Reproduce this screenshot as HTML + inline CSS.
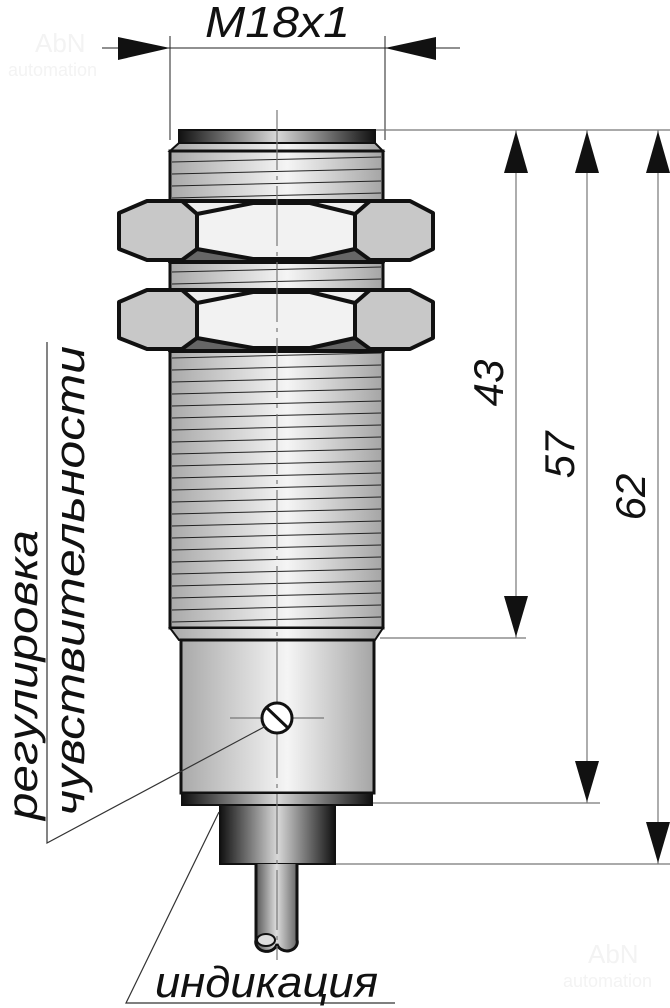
<!DOCTYPE html>
<html><head><meta charset="utf-8"><style>
html,body{margin:0;padding:0;background:#fff;width:670px;height:1008px;overflow:hidden}
svg{display:block}
text{font-family:"Liberation Sans",sans-serif;font-style:italic;fill:#111}
</style></head><body>
<svg width="670" height="1008" viewBox="0 0 670 1008" xmlns="http://www.w3.org/2000/svg">
<defs>
<linearGradient id="g" x1="0" x2="1" y1="0" y2="0">
<stop offset="0" stop-color="#a9a9a9"/><stop offset="0.55" stop-color="#f5f5f5"/><stop offset="1" stop-color="#a5a5a5"/></linearGradient>
<linearGradient id="d" x1="0" x2="1" y1="0" y2="0">
<stop offset="0" stop-color="#111"/><stop offset="0.5" stop-color="#d8d8d8"/><stop offset="1" stop-color="#111"/></linearGradient>
<linearGradient id="c" x1="0" x2="1" y1="0" y2="0">
<stop offset="0" stop-color="#555"/><stop offset="0.5" stop-color="#ddd"/><stop offset="1" stop-color="#666"/></linearGradient>
</defs>
<text x="35" y="52" font-size="26" style="font-style:normal;fill:#f3f3f3">AbN</text>
<text x="8" y="76" font-size="18" style="font-style:normal;fill:#f3f3f3">automation</text>
<text x="588" y="963" font-size="26" style="font-style:normal;fill:#f3f3f3">AbN</text>
<text x="563" y="987" font-size="18" style="font-style:normal;fill:#f3f3f3">automation</text>

<g stroke="#222" stroke-width="1">
<line x1="170" y1="36" x2="170" y2="140"/><line x1="385" y1="36" x2="385" y2="140"/>
<line x1="102" y1="48" x2="460" y2="48"/>
</g>
<polygon points="170,48 118,37 118,60" fill="#111"/>
<polygon points="385,48 436,37 436,60" fill="#111"/>
<text x="205" y="37" font-size="44" textLength="145" lengthAdjust="spacingAndGlyphs">M18x1</text>

<g stroke="#777" stroke-width="1.2">
<line x1="375" y1="130" x2="670" y2="130"/>
<line x1="380" y1="638" x2="526" y2="638"/>
<line x1="372" y1="803" x2="600" y2="803"/>
<line x1="335" y1="864" x2="670" y2="864"/>
<line x1="516" y1="130" x2="516" y2="638"/>
<line x1="587" y1="130" x2="587" y2="803"/>
<line x1="658" y1="130" x2="658" y2="864"/>
</g>
<g fill="#111">
<polygon points="516,131 504,173 528,173"/><polygon points="516,637 504,596 528,596"/>
<polygon points="587,131 575,173 599,173"/><polygon points="587,802 575,761 599,761"/>
<polygon points="658,131 646,173 670,173"/><polygon points="658,863 646,822 670,822"/>
</g>
<text font-size="42" transform="translate(503,383) rotate(-90)" text-anchor="middle">43</text>
<text font-size="42" transform="translate(574,455) rotate(-90)" text-anchor="middle">57</text>
<text font-size="42" transform="translate(645,497) rotate(-90)" text-anchor="middle">62</text>

<rect x="179" y="130" width="196" height="13" fill="url(#d)" stroke="#111" stroke-width="2"/>
<polygon points="179,143 375,143 383,151 170,151" fill="url(#g)" stroke="#111" stroke-width="2"/>
<rect x="170" y="151" width="213" height="477" fill="url(#g)" stroke="#111" stroke-width="3"/>
<polygon points="170,628 383,628 375,640 179,640" fill="url(#g)" stroke="#111" stroke-width="2"/>
<g stroke="#222" stroke-width="1">
<line x1="172" y1="162" x2="381" y2="157"/><line x1="172" y1="174" x2="381" y2="169"/><line x1="172" y1="186" x2="381" y2="181"/><line x1="172" y1="198" x2="381" y2="193"/>
<line x1="172" y1="272" x2="381" y2="267"/><line x1="172" y1="284" x2="381" y2="279"/>
<line x1="172" y1="358" x2="381" y2="353"/><line x1="172" y1="370" x2="381" y2="365"/><line x1="172" y1="382" x2="381" y2="377"/><line x1="172" y1="394" x2="381" y2="389"/><line x1="172" y1="406" x2="381" y2="401"/><line x1="172" y1="418" x2="381" y2="413"/><line x1="172" y1="430" x2="381" y2="425"/><line x1="172" y1="442" x2="381" y2="437"/><line x1="172" y1="454" x2="381" y2="449"/><line x1="172" y1="466" x2="381" y2="461"/><line x1="172" y1="478" x2="381" y2="473"/><line x1="172" y1="490" x2="381" y2="485"/><line x1="172" y1="502" x2="381" y2="497"/><line x1="172" y1="514" x2="381" y2="509"/><line x1="172" y1="526" x2="381" y2="521"/><line x1="172" y1="538" x2="381" y2="533"/><line x1="172" y1="550" x2="381" y2="545"/><line x1="172" y1="562" x2="381" y2="557"/><line x1="172" y1="574" x2="381" y2="569"/><line x1="172" y1="586" x2="381" y2="581"/><line x1="172" y1="598" x2="381" y2="593"/><line x1="172" y1="610" x2="381" y2="605"/><line x1="172" y1="622" x2="381" y2="617"/>
</g>

<g id="nut" stroke="#111" stroke-width="4" stroke-linejoin="round">
<polygon points="170,262 383,262 355,249 197,249" fill="#666"/>
<polygon points="170,201 383,201 355,214 197,214" fill="#eee"/>
<polygon points="197,214 253,203 310,203 355,214 355,249 310,259 253,259 197,249" fill="#f2f2f2"/>
<polygon points="119,213 147,201 182,201 197,214 197,249 182,260 147,260 119,249" fill="#c8c8c8"/>
<polygon points="433,213 410,201 370,201 355,214 355,249 370,260 410,260 433,249" fill="#c8c8c8"/>
</g>
<use href="#nut" transform="translate(0,89)"/>

<rect x="181" y="640" width="193" height="153" fill="url(#g)" stroke="#111" stroke-width="3"/>
<rect x="182" y="793" width="190" height="12" fill="url(#d)" stroke="#111" stroke-width="2"/>
<rect x="220" y="805" width="115" height="59" fill="url(#d)" stroke="#111" stroke-width="2"/>
<path d="M256,864 V940 A8,7 0 0 0 277,944 A8,7 0 0 0 297,940 V864" fill="url(#c)" stroke="#111" stroke-width="3"/>
<ellipse cx="266" cy="940" rx="9" ry="6" fill="#ddd" stroke="#111" stroke-width="2"/>
<g stroke="#777" stroke-width="1.2">
<line x1="277" y1="110" x2="277" y2="960" stroke-dasharray="60,6,4,6"/>
<line x1="230" y1="718" x2="324" y2="718"/>
</g>
<circle cx="277" cy="718" r="15" fill="#fff" stroke="#111" stroke-width="3"/>
<line x1="267" y1="708" x2="288" y2="728" stroke="#111" stroke-width="3"/>

<g stroke="#333" stroke-width="1.2" fill="none">
<polyline points="47,342 47,843 266,726"/>
<polyline points="219,812 126,1003 395,1003"/>
</g>
<text font-size="42" transform="translate(37,820) rotate(-90)" textLength="290" lengthAdjust="spacingAndGlyphs">регулировка</text>
<text font-size="42" transform="translate(84,816) rotate(-90)" textLength="470" lengthAdjust="spacingAndGlyphs">чувствительности</text>
<text x="155" y="997" font-size="44" textLength="223" lengthAdjust="spacingAndGlyphs">индикация</text>
</svg>
</body></html>
